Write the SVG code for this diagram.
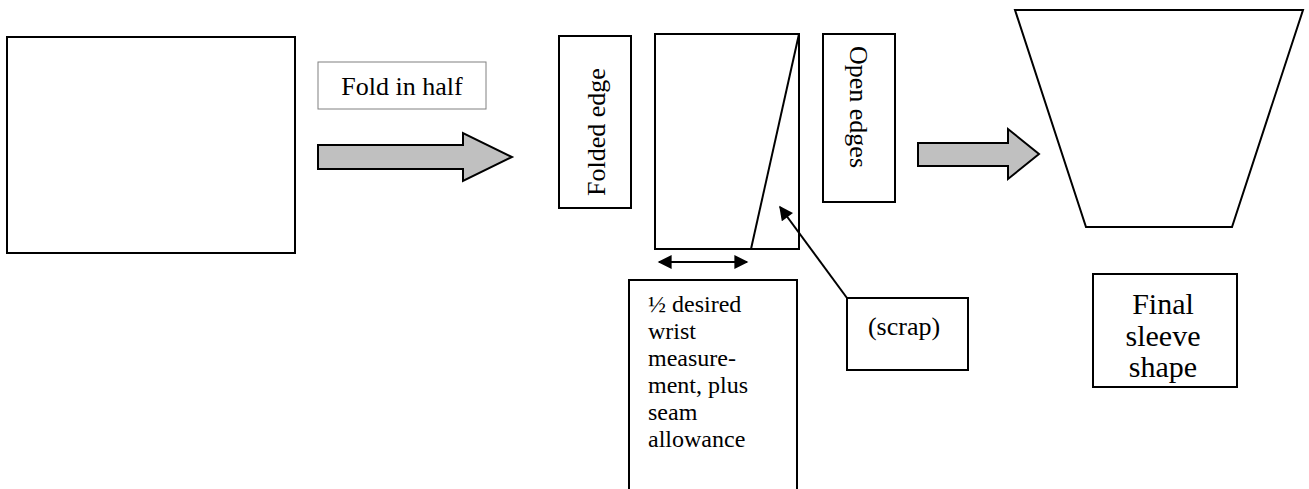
<svg xmlns="http://www.w3.org/2000/svg" width="1309" height="489" viewBox="0 0 1309 489">
<style>
.box{fill:#fff;stroke:#000;stroke-width:2}
.t{font-family:"Liberation Serif","Times New Roman",serif;font-size:26px;fill:#000}
.blk{fill:#c0c0c0;stroke:#000;stroke-width:2;stroke-linejoin:miter}
.ln{stroke:#000;stroke-width:2;fill:none}
</style>
<defs>
<marker id="ah" viewBox="0 0 10 10" refX="9" refY="5" markerWidth="7.5" markerHeight="7" orient="auto-start-reverse" markerUnits="strokeWidth">
<path d="M0,0 L10,5 L0,10 Z" fill="#000"/>
</marker>
</defs>
<rect width="1309" height="489" fill="#fff"/>
<g id="fabric"><rect class="box" x="7" y="37" width="288" height="216"/></g>
<g id="fold-label"><rect x="318" y="62" width="168" height="47" fill="#fff" stroke="#808080" stroke-width="1"/><text class="t" x="402" y="95" text-anchor="middle">Fold in half</text></g>
<g id="folded-edge"><rect class="box" x="559" y="36" width="72" height="172"/><text class="t" transform="translate(605,132) rotate(-90)" text-anchor="middle">Folded edge</text></g>
<g id="folded-piece"><rect class="box" x="655" y="34" width="144" height="215"/><line class="ln" x1="799" y1="34" x2="751" y2="249"/></g>
<g id="open-edges"><rect class="box" x="823" y="34" width="72" height="168"/><text class="t" transform="translate(850,107) rotate(90)" text-anchor="middle">Open edges</text></g>
<g id="sleeve"><polygon class="box" points="1015,10 1303,10 1232,227 1086,227"/></g>
<g id="wrist-label"><rect class="box" x="629" y="280" width="168" height="220"/>
<text class="t" style="font-size:24px"><tspan x="648" y="312">½ desired</tspan><tspan x="648" y="339">wrist</tspan><tspan x="648" y="366">measure-</tspan><tspan x="648" y="393">ment, plus</tspan><tspan x="648" y="420">seam</tspan><tspan x="648" y="447">allowance</tspan></text></g>
<g id="scrap-label"><rect class="box" x="847" y="298" width="121" height="72"/><text class="t" x="904" y="335" text-anchor="middle">(scrap)</text></g>
<g id="final-label"><rect class="box" x="1093" y="274" width="144" height="113"/>
<text class="t" style="font-size:30px" text-anchor="middle"><tspan x="1163" y="314">Final</tspan><tspan x="1163" y="346">sleeve</tspan><tspan x="1163" y="377">shape</tspan></text></g>
<g id="connectors">
<polygon class="blk" points="318,145 463,145 463,133 512,157 463,181 463,169 318,169"/>
<polygon class="blk" points="918,143 1008,143 1008,129 1039,154 1008,179 1008,166 918,166"/>
<line class="ln" x1="659" y1="262" x2="747" y2="262" marker-start="url(#ah)" marker-end="url(#ah)"/>
<line class="ln" x1="847" y1="298" x2="780" y2="207" marker-end="url(#ah)"/>
</g>
</svg>
